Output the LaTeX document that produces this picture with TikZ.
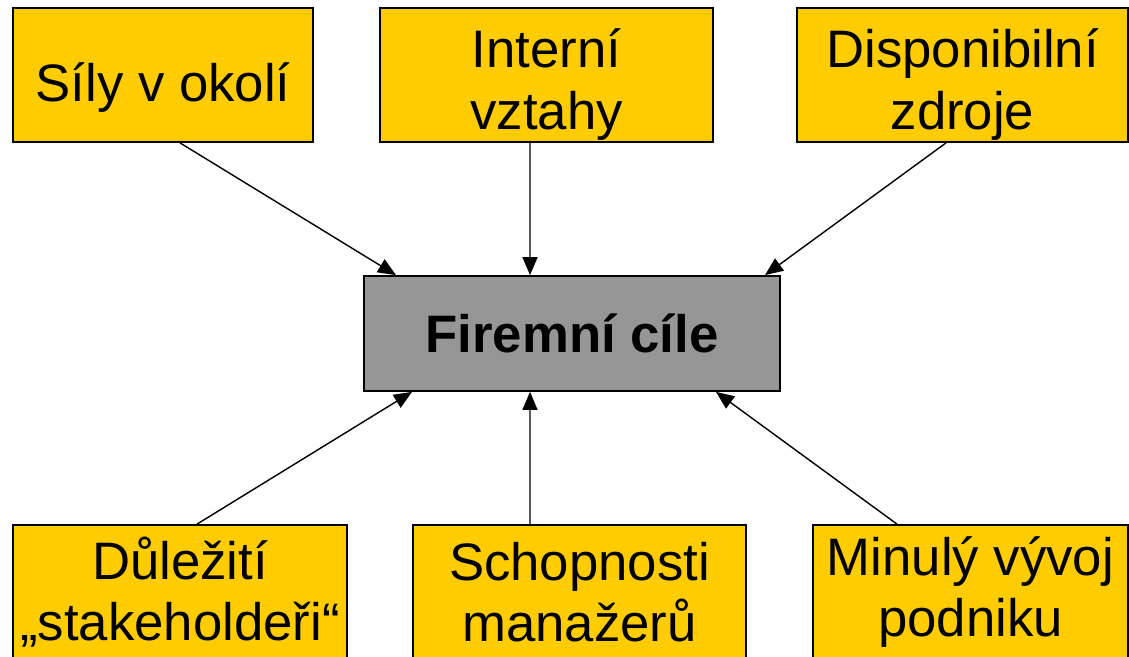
\documentclass[tikz,border=0pt]{standalone}
\usepackage{fontspec}
\setmainfont{Liberation Sans}
\usetikzlibrary{arrows.meta}
\definecolor{boxyellow}{HTML}{FFCC00}
\definecolor{goalgray}{HTML}{969696}
\newcommand{\boxstrut}[1]{\rule{0pt}{#1}}
\begin{document}
\begin{tikzpicture}[
  factor/.style={draw=black,line width=1pt,fill=boxyellow,align=center,inner sep=0pt,minimum height=2.68cm,font=\fontsize{30}{35}\selectfont},
  goal/.style={draw=black,line width=1pt,fill=goalgray,inner sep=0pt,minimum width=8.32cm,minimum height=2.3cm,font=\fontsize{30}{35}\selectfont\bfseries},
  link/.style={-{Triangle[width=0.3cm,length=0.36cm]},line width=0.8pt}]
\useasboundingbox (0,0) rectangle (22.58,13.12);
\node[goal] (cile) at (11.44,6.45) {Firemní cíle};
\node[factor,minimum width=6cm] (okoli) at (3.26,11.62) {\boxstrut{36pt}Síly v okolí};
\node[factor,minimum width=6.66cm] (vztahy) at (10.93,11.62) {\boxstrut{33pt}Interní\\vztahy};
\node[factor,minimum width=6.62cm] (zdroje) at (19.25,11.62) {\boxstrut{33pt}Disponibilní\\zdroje};
\node[factor,minimum width=6.68cm] (stake) at (3.6,1.28) {Důležití\\„stakeholdeři“};
\node[factor,minimum width=6.66cm] (schop) at (11.59,1.28) {Schopnosti\\manažerů};
\node[factor,minimum width=6.3cm] (vyvoj) at (19.41,1.28) {Minulý vývoj\\podniku};
\draw[link] ([xshift=0.34cm]okoli.south) -- ([xshift=-3.52cm]cile.north);
\draw[link] ([xshift=-0.33cm]vztahy.south) -- ([xshift=-0.84cm]cile.north);
\draw[link] ([xshift=-0.33cm]zdroje.south) -- ([xshift=3.86cm]cile.north);
\draw[link] ([xshift=0.34cm]stake.north) -- ([xshift=-3.2cm]cile.south);
\draw[link] ([xshift=-0.99cm]schop.north) -- ([xshift=-0.84cm]cile.south);
\draw[link] ([xshift=-1.47cm]vyvoj.north) -- ([xshift=2.88cm]cile.south);
\end{tikzpicture}
\end{document}
